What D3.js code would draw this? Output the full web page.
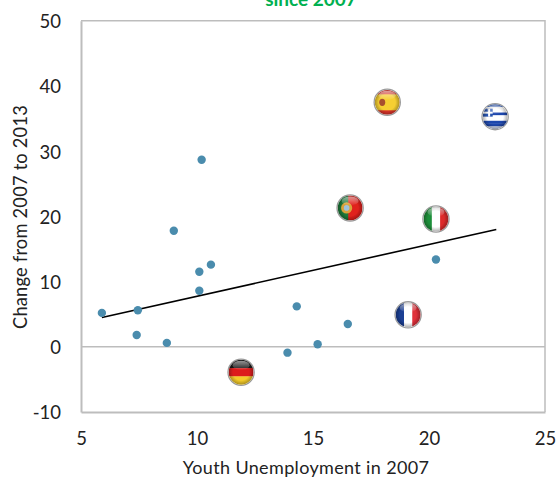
<!DOCTYPE html>
<html>
<head>
<meta charset="utf-8">
<script src="https://cdnjs.cloudflare.com/ajax/libs/d3/7.8.5/d3.min.js"></script>
<style>
  html, body { margin: 0; padding: 0; background: #fff; }
  svg { display: block; }
  text { font-family: Lato, "Open Sans", sans-serif; fill: #222; }
</style>
</head>
<body>
<svg id="chart" width="556" height="477"></svg>
<script>
// ----- data
const xTicks = [5, 10, 15, 20, 25];
const yTicks = [-10, 0, 10, 20, 30, 40, 50];

const dotX = [5.9, 7.45, 7.4, 8.7, 9.0, 10.2, 10.1, 10.1, 10.6, 14.3, 13.9, 15.2, 16.5, 20.3];
const dotY = [5.2, 5.6, 1.8, 0.6, 17.8, 28.7, 11.5, 8.6, 12.6, 6.2, -0.9, 0.4, 3.5, 13.4];

const flagNames = ["Spain", "Greece", "Portugal", "Italy", "France", "Germany"];
const flagX = [18.2, 22.85, 16.6, 20.3, 19.1, 11.9];
const flagY = [37.5, 35.3, 21.3, 19.6, 4.9, -3.9];

const trendX = [5.9, 22.9];
const trendY = [4.5, 18];

const titleText = "since 2007";
const xLabel = "Youth Unemployment in 2007";
const yLabel = "Change from 2007 to 2013";

// ----- scales
const x = d3.scaleLinear().domain([5, 25]).range([81, 545]);
const y = d3.scaleLinear().domain([-10, 50]).range([412, 20.8]);

const svg = d3.select("#chart");
const axisColor = "#bdbdbd";

// title is cut off by the top edge in the original
svg.append("text")
  .attr("x", 311).attr("y", 6)
  .attr("text-anchor", "middle")
  .style("font-size", "19px").style("font-weight", 700)
  .style("fill", "#00b050")
  .text(titleText);

// ----- axes
const xAxis = svg.append("g")
  .attr("transform", `translate(0,${y(-10)})`)
  .call(d3.axisBottom(x).tickValues(xTicks).tickSize(0).tickPadding(20).tickFormat(d3.format("d")));
const yAxis = svg.append("g")
  .attr("transform", `translate(${x(5)},1)`)
  .call(d3.axisLeft(y).tickValues(yTicks).tickSize(0).tickPadding(20).tickFormat(d => String(d)));

xAxis.select(".domain").attr("stroke", axisColor).attr("stroke-width", 2);
yAxis.select(".domain").attr("stroke", axisColor).attr("stroke-width", 2).attr("transform", "translate(0,-1)");
svg.selectAll(".tick text").style("font-size", "18.5px").style("font-family", "Lato, sans-serif").attr("fill", "#222");

// top and right border, zero line
svg.append("path")
  .attr("d", `M${x(5)},${y(50)}H${x(25)}V${y(-10)}`)
  .attr("fill", "none").attr("stroke", axisColor).attr("stroke-width", 1.5);
svg.append("line").attr("x1", x(5)).attr("x2", x(25)).attr("y1", y(0)).attr("y2", y(0))
  .attr("stroke", axisColor).attr("stroke-width", 1.5);

svg.append("text")
  .attr("x", 306).attr("y", 474)
  .attr("text-anchor", "middle")
  .style("font-size", "18px").style("letter-spacing", "0.35px")
  .text(xLabel);
svg.append("text")
  .attr("transform", `translate(27,217) rotate(-90)`)
  .attr("text-anchor", "middle")
  .style("font-size", "18.3px").style("letter-spacing", "0.2px")
  .text(yLabel);

// ----- trend line
svg.append("line")
  .attr("x1", x(trendX[0])).attr("y1", y(trendY[0]))
  .attr("x2", x(trendX[1])).attr("y2", y(trendY[1]))
  .attr("stroke", "#000").attr("stroke-width", 1.6);

// ----- plain dots
svg.append("g").selectAll("circle")
  .data(dotX.map((d, i) => [d, dotY[i]]))
  .join("circle")
  .attr("cx", d => x(d[0]))
  .attr("cy", d => y(d[1]))
  .attr("r", 4.2)
  .attr("fill", "#4a8cad");

// ----- flag badges
const defs = svg.append("defs");
const R = 12.4;
defs.append("clipPath").attr("id", "badge").append("circle").attr("r", R);
defs.append("filter").attr("id", "soft").append("feGaussianBlur").attr("stdDeviation", 0.7);
const gloss = defs.append("linearGradient").attr("id", "gloss").attr("x1", 0).attr("x2", 0).attr("y1", 0).attr("y2", 1);
gloss.append("stop").attr("offset", "0%").attr("stop-color", "#fff").attr("stop-opacity", 0.55);
gloss.append("stop").attr("offset", "100%").attr("stop-color", "#fff").attr("stop-opacity", 0.03);
// darker rim and a lighter bottom, so the badge reads as a ball
const rim = defs.append("radialGradient").attr("id", "rim").attr("cx", "50%").attr("cy", "50%").attr("r", "50%");
rim.append("stop").attr("offset", "65%").attr("stop-color", "#000").attr("stop-opacity", 0);
rim.append("stop").attr("offset", "100%").attr("stop-color", "#000").attr("stop-opacity", 0.3);

function hStripes(g, colors) {
  const h = 2 * R / colors.length;
  colors.forEach((c, i) => g.append("rect").attr("x", -R).attr("y", -R + i * h).attr("width", 2 * R).attr("height", h + 0.3).attr("fill", c));
}
function vStripes(g, colors) {
  const w = 2 * R / colors.length;
  colors.forEach((c, i) => g.append("rect").attr("x", -R + i * w).attr("y", -R).attr("width", w + 0.3).attr("height", 2 * R).attr("fill", c));
}

const painters = {
  Spain(g) {
    g.append("rect").attr("x", -R).attr("y", -R).attr("width", 2 * R).attr("height", 2 * R).attr("fill", "#e0352b");
    g.append("rect").attr("x", -R).attr("y", -8).attr("width", 2 * R).attr("height", 16).attr("fill", "#f6cf32");
    g.append("ellipse").attr("cx", -5).attr("cy", 0).attr("rx", 3).attr("ry", 3.6).attr("fill", "#a8502e");
  },
  Greece(g) {
    hStripes(g, ["#3a66c4", "#fff", "#fff", "#1f47ad", "#fff", "#fff", "#1f47ad", "#1f47ad", "#cfd8ee"]);
    g.append("rect").attr("x", -R).attr("y", -8).attr("width", 10).attr("height", 8).attr("fill", "#2a55b0");
    g.append("rect").attr("x", -R).attr("y", -5).attr("width", 10).attr("height", 2).attr("fill", "#fff");
    g.append("rect").attr("x", -7).attr("y", -8).attr("width", 2).attr("height", 8).attr("fill", "#fff");
  },
  Portugal(g) {
    g.append("rect").attr("x", -R).attr("y", -R).attr("width", 2 * R).attr("height", 2 * R).attr("fill", "#e0211c");
    g.append("rect").attr("x", -R).attr("y", -R).attr("width", 10.5).attr("height", 2 * R).attr("fill", "#1d7a3a");
    g.append("circle").attr("cx", -3.5).attr("r", 5.6).attr("fill", "#d9a23a");
    g.append("circle").attr("cx", -3.5).attr("r", 2.8).attr("fill", "#9fc3dd");
  },
  Italy(g) { vStripes(g, ["#1f8f3a", "#fff", "#dd2c2c"]); },
  France(g) { vStripes(g, ["#1c3f94", "#fff", "#e0303a"]); },
  Germany(g) { hStripes(g, ["#1a1a1a", "#dd1f1f", "#f5cc2a"]); }
};

const flag = svg.append("g").selectAll("g")
  .data(flagNames.map((n, i) => ({ name: n, fx: flagX[i], fy: flagY[i] })))
  .join("g")
  .attr("transform", d => `translate(${x(d.fx)},${y(d.fy)})`);

flag.append("circle").attr("r", R + 0.7).attr("fill", "#fff").attr("stroke", "#9a9a9a").attr("stroke-width", 1.3);
flag.each(function (d) {
  const inner = d3.select(this).append("g").attr("clip-path", "url(#badge)").append("g").attr("filter", "url(#soft)");
  painters[d.name](inner);
  inner.append("circle").attr("r", R).attr("fill", "url(#rim)");
  inner.append("ellipse").attr("cx", 0).attr("cy", -7).attr("rx", 8.5).attr("ry", 4.5).attr("fill", "url(#gloss)");
});
</script>
</body>
</html>
